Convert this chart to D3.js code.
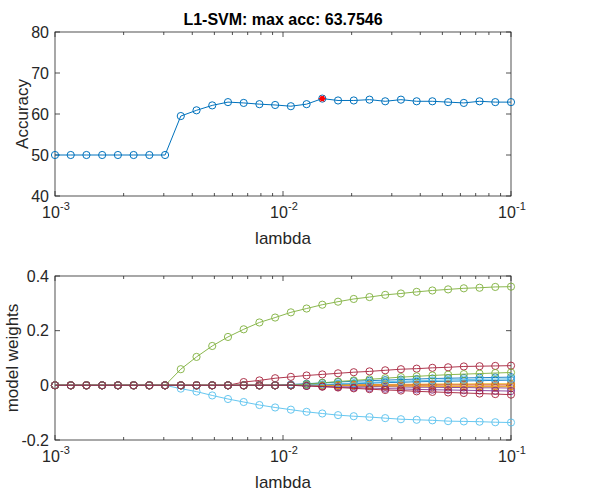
<!DOCTYPE html>
<html>
<head>
    <title>L1-SVM lambda sweep</title>
    <script src="https://d3js.org/d3.v7.min.js"></script>
    <style>
        body { margin: 0; background-color: #ffffff; }
        text { font-family: "Liberation Sans", Arial, sans-serif; fill: #262626; }
    </style>
</head>
<body>
    <div id="chart"></div>

    <script>
        // lambda grid (30 log-spaced values)
        var lambdas = [0.0010000, 0.0011721, 0.0013738, 0.0016103, 0.0018874, 0.0022122,
            0.0025929, 0.0030392, 0.0035622, 0.0041753, 0.0048939, 0.0057362,
            0.0067234, 0.0078805, 0.0092367, 0.0108264, 0.0126896, 0.0148735,
            0.0174333, 0.0204336, 0.0239503, 0.0280722, 0.0329034, 0.0385662,
            0.0452035, 0.0529832, 0.0621017, 0.0727895, 0.0853168, 0.1000000];

        // accuracy for each lambda
        var accuracy = [50, 50, 50, 50, 50, 50, 50, 50,
            59.5, 60.9, 62.1, 62.9, 62.7, 62.4, 62.2, 61.9, 62.4, 63.7546,
            63.3, 63.3, 63.5, 63.1, 63.5, 63.1, 63.1, 62.9, 62.7, 63.1, 62.9, 62.9];

        // model weights, one array per feature
        var w1  = [0,0,0,0,0,0,0,0,0,0,0,0,0,0,0, 0.003,0.006,0.009,0.012,0.015,0.017,0.019,0.021,0.023,0.025,0.026,0.027,0.028,0.029,0.030];
        var w2  = [0,0,0,0,0,0,0,0,0,0,0,0,0,0,0,0,0,0, -0.001,-0.001,-0.001,-0.002,-0.002,-0.002,-0.002,-0.003,-0.003,-0.003,-0.003,-0.003];
        var w3  = [0,0,0,0,0,0,0,0,0,0,0,0,0,0,0,0,0,0, 0.001,0.002,0.003,0.003,0.004,0.004,0.005,0.005,0.005,0.006,0.006,0.006];
        var w4  = [0,0,0,0,0,0,0,0,0,0,0,0,0,0,0,0,0, -0.001,-0.002,-0.003,-0.004,-0.005,-0.006,-0.007,-0.007,-0.008,-0.008,-0.009,-0.009,-0.010];
        var w5  = [0,0,0,0,0,0,0,0, 0.059,0.104,0.144,0.177,0.205,0.230,0.248,0.267,0.281,0.295,0.306,0.316,0.323,0.331,0.336,0.342,0.347,0.351,0.355,0.357,0.360,0.361];
        var w6  = [0,0,0,0,0,0,0,0, -0.012,-0.023,-0.037,-0.050,-0.061,-0.072,-0.081,-0.089,-0.097,-0.103,-0.109,-0.113,-0.116,-0.120,-0.124,-0.126,-0.128,-0.131,-0.132,-0.133,-0.135,-0.136];
        var w7  = [0,0,0,0,0,0,0,0,0,0,0,0, 0.012,0.018,0.026,0.031,0.036,0.040,0.044,0.048,0.051,0.055,0.059,0.061,0.064,0.066,0.069,0.070,0.071,0.072];
        var w8  = [0,0,0,0,0,0,0,0,0,0,0,0,0,0,0,0,0, 0.002,0.004,0.006,0.008,0.010,0.011,0.013,0.014,0.015,0.016,0.017,0.018,0.019];
        var w9  = [0,0,0,0,0,0,0,0,0,0,0,0,0,0,0,0,0,0,0, 0.001,0.001,0.001,0.001,0.002,0.002,0.002,0.002,0.002,0.002,0.002];
        var w10 = [0,0,0,0,0,0,0,0,0,0,0,0,0,0,0,0,0,0,0, -0.001,-0.002,-0.002,-0.003,-0.003,-0.004,-0.004,-0.004,-0.005,-0.005,-0.005];
        var w11 = [0,0,0,0,0,0,0,0,0,0,0,0,0,0,0,0, -0.002,-0.004,-0.006,-0.008,-0.010,-0.012,-0.013,-0.015,-0.016,-0.017,-0.018,-0.019,-0.020,-0.021];
        var w12 = [0,0,0,0,0,0,0,0,0,0,0,0,0,0,0,0, 0.004,0.009,0.014,0.018,0.022,0.026,0.030,0.033,0.036,0.039,0.041,0.043,0.045,0.047];
        var w13 = [0,0,0,0,0,0,0,0,0,0,0,0,0,0,0,0,0, 0.003,0.006,0.008,0.011,0.013,0.015,0.017,0.018,0.020,0.021,0.022,0.023,0.024];
        var w14 = [0,0,0,0,0,0,0,0,0,0,0,0,0,0,0,0, -0.002,-0.005,-0.008,-0.011,-0.014,-0.017,-0.019,-0.022,-0.024,-0.026,-0.028,-0.030,-0.032,-0.034];
        var weights = [w1, w2, w3, w4, w5, w6, w7, w8, w9, w10, w11, w12, w13, w14];

        // MATLAB default line colours
        var colors = ["#0072BD", "#D95319", "#EDB120", "#7E2F8E", "#77AC30", "#4DBEEE", "#A2142F"];

        var xTicks = [0.001, 0.01, 0.1];
        var xTickExp = ["-3", "-2", "-1"];
        var accTicks = [40, 50, 60, 70, 80];
        var wTicks = [-0.2, 0, 0.2, 0.4];
        var wTickLabels = ["-0.2", "0", "0.2", "0.4"];
        var titleText = "L1-SVM: max acc: 63.7546";

        var W = 611, H = 492;
        var left = 55, right = 511;

        var svg = d3.select("#chart").append("svg")
            .attr("width", W)
            .attr("height", H);

        var x = d3.scaleLog().domain([0.001, 0.1]).range([left, right]);

        // minor ticks 2..9 per decade
        var minor = [];
        [0.001, 0.01].forEach(function(d) {
            for (var k = 2; k <= 9; k++) minor.push(d * k);
        });

        function drawAxes(g, y, top, bottom, yTicks, yLabels, ylabel, ylabelX) {
            g.append("rect")
                .attr("x", left).attr("y", top)
                .attr("width", right - left).attr("height", bottom - top)
                .attr("fill", "#ffffff");

            // x ticks (inward, top and bottom)
            xTicks.forEach(function(t) {
                g.append("line").attr("x1", x(t)).attr("x2", x(t)).attr("y1", bottom).attr("y2", bottom - 5)
                    .attr("stroke", "#262626").attr("stroke-width", 0.8);
                g.append("line").attr("x1", x(t)).attr("x2", x(t)).attr("y1", top).attr("y2", top + 5)
                    .attr("stroke", "#262626").attr("stroke-width", 0.8);
            });
            minor.forEach(function(t) {
                g.append("line").attr("x1", x(t)).attr("x2", x(t)).attr("y1", bottom).attr("y2", bottom - 3)
                    .attr("stroke", "#262626").attr("stroke-width", 0.8);
                g.append("line").attr("x1", x(t)).attr("x2", x(t)).attr("y1", top).attr("y2", top + 3)
                    .attr("stroke", "#262626").attr("stroke-width", 0.8);
            });
            // y ticks (inward, left and right)
            yTicks.forEach(function(t) {
                g.append("line").attr("x1", left).attr("x2", left + 5).attr("y1", y(t)).attr("y2", y(t))
                    .attr("stroke", "#262626").attr("stroke-width", 0.8);
                g.append("line").attr("x1", right).attr("x2", right - 5).attr("y1", y(t)).attr("y2", y(t))
                    .attr("stroke", "#262626").attr("stroke-width", 0.8);
            });

            // box
            g.append("rect")
                .attr("x", left).attr("y", top)
                .attr("width", right - left).attr("height", bottom - top)
                .attr("fill", "none")
                .attr("stroke", "#262626")
                .attr("stroke-width", 0.8);

            // x tick labels 10^n
            xTicks.forEach(function(t, i) {
                g.append("text")
                    .attr("x", x(t) - 4)
                    .attr("y", bottom + 22)
                    .attr("text-anchor", "middle")
                    .style("font-size", "16px")
                    .text("10");
                g.append("text")
                    .attr("x", x(t) + 5)
                    .attr("y", bottom + 14)
                    .attr("text-anchor", "start")
                    .style("font-size", "11px")
                    .text(xTickExp[i]);
            });

            // y tick labels
            yTicks.forEach(function(t, i) {
                g.append("text")
                    .attr("x", left - 6)
                    .attr("y", y(t) + 5.5)
                    .attr("text-anchor", "end")
                    .style("font-size", "16px")
                    .text(yLabels[i]);
            });

            g.append("text")
                .attr("x", (left + right) / 2)
                .attr("y", bottom + 48)
                .attr("text-anchor", "middle")
                .style("font-size", "17px")
                .text("lambda");

            g.append("text")
                .attr("transform", "translate(" + ylabelX + "," + ((top + bottom) / 2) + ") rotate(-90)")
                .attr("text-anchor", "middle")
                .style("font-size", "17px")
                .text(ylabel);
        }

        // ---- Top: accuracy ----
        var yAcc = d3.scaleLinear().domain([40, 80]).range([196, 32]);
        var gTop = svg.append("g");
        drawAxes(gTop, yAcc, 32, 196, accTicks, accTicks.map(String), "Accuracy", 28);

        var accLine = d3.line()
            .x(function(d, i) { return x(lambdas[i]); })
            .y(function(d) { return yAcc(d); });

        gTop.append("path")
            .datum(accuracy)
            .attr("d", accLine)
            .attr("fill", "none")
            .attr("stroke", colors[0])
            .attr("stroke-width", 1);

        gTop.selectAll(".acc-pt")
            .data(accuracy)
            .enter().append("circle")
            .attr("class", "acc-pt")
            .attr("cx", function(d, i) { return x(lambdas[i]); })
            .attr("cy", function(d) { return yAcc(d); })
            .attr("r", 3.6)
            .attr("fill", "none")
            .attr("stroke", colors[0])
            .attr("stroke-width", 1);

        // best accuracy marker (red asterisk)
        var best = d3.maxIndex(accuracy);
        var bx = x(lambdas[best]), by = yAcc(accuracy[best]);
        gTop.append("circle").attr("cx", bx).attr("cy", by).attr("r", 2.6).attr("fill", "#ff0000");
        [0, 60, 120].forEach(function(a) {
            var r = 3.6, rad = a * Math.PI / 180;
            gTop.append("line")
                .attr("x1", bx - r * Math.cos(rad)).attr("y1", by - r * Math.sin(rad))
                .attr("x2", bx + r * Math.cos(rad)).attr("y2", by + r * Math.sin(rad))
                .attr("stroke", "#ff0000").attr("stroke-width", 1);
        });

        gTop.append("text")
            .attr("x", (left + right) / 2)
            .attr("y", 25)
            .attr("text-anchor", "middle")
            .style("font-size", "16px")
            .style("font-weight", "bold")
            .style("fill", "#000000")
            .text(titleText);

        // ---- Bottom: model weights ----
        var yW = d3.scaleLinear().domain([-0.2, 0.4]).range([440, 276]);
        var gBot = svg.append("g");
        drawAxes(gBot, yW, 276, 440, wTicks, wTickLabels, "model weights", 18);

        var wLine = d3.line()
            .x(function(d, i) { return x(lambdas[i]); })
            .y(function(d) { return yW(d); });

        weights.forEach(function(series, s) {
            var c = colors[s % colors.length];
            var gs = gBot.append("g").attr("opacity", 0.85);
            gs.append("path")
                .datum(series)
                .attr("d", wLine)
                .attr("fill", "none")
                .attr("stroke", c)
                .attr("stroke-width", 1);
            gs.selectAll("circle")
                .data(series)
                .enter().append("circle")
                .attr("cx", function(d, i) { return x(lambdas[i]); })
                .attr("cy", function(d) { return yW(d); })
                .attr("r", 3.6)
                .attr("fill", "none")
                .attr("stroke", c)
                .attr("stroke-width", 1);
        });
    </script>
</body>
</html>
